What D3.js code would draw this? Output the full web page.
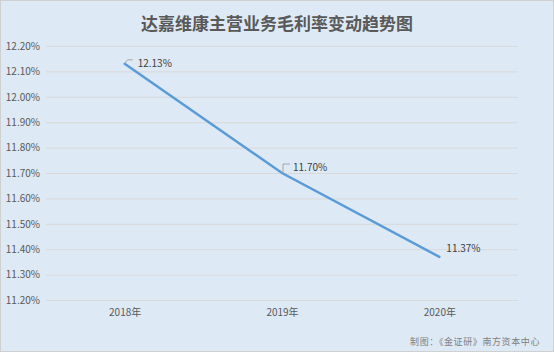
<!DOCTYPE html>
<html><head><meta charset="utf-8">
<script src="https://cdn.jsdelivr.net/npm/d3@7"></script>
<style>body{margin:0;background:#fff}svg{display:block}</style>
</head><body><svg id="c" width="554" height="352"></svg>
<script>
const title = "达嘉维康主营业务毛利率变动趋势图";
const categories = ["2018年", "2019年", "2020年"];
const values = [12.13, 11.70, 11.37];
const valueLabels = ["12.13%", "11.70%", "11.37%"];
const yTicks = [11.2, 11.3, 11.4, 11.5, 11.6, 11.7, 11.8, 11.9, 12.0, 12.1, 12.2];
const source = "制图：《金证研》南方资本中心";

const W = 554, H = 352;
const svg = d3.select("#c");
svg.append("rect").attr("x",0.5).attr("y",0.5).attr("width",W-1).attr("height",H-1)
  .attr("fill","#dde9f5").attr("stroke","#d0d0d0");

const x = d3.scalePoint().domain(categories).range([46,518]).padding(0.5);
const y = d3.scaleLinear().domain([11.2,12.2]).range([300,46]);

const font = "'Microsoft YaHei','Noto Sans CJK SC','DejaVu Sans',sans-serif";

svg.append("text").attr("x",W/2).attr("y",30).attr("text-anchor","middle")
  .attr("font-family",font).attr("font-size",17).attr("font-weight","600").attr("fill","#595959").text(title);

const yAxis = d3.axisLeft(y).tickValues(yTicks).tickFormat(d=>d.toFixed(2)+"%").tickSize(-(518-46)).tickPadding(6);
const gy = svg.append("g").attr("transform","translate(46,0)").call(yAxis);
gy.select(".domain").remove();
gy.selectAll(".tick line").attr("stroke","#d9d9d9").attr("stroke-width",1);
gy.selectAll(".tick text").attr("font-family",font).attr("font-size",10).attr("fill","#595959");

const xAxis = d3.axisBottom(x).tickSize(0).tickPadding(9);
const gx = svg.append("g").attr("transform","translate(0,300)").call(xAxis);
gx.select(".domain").attr("stroke","#d9d9d9");
gx.selectAll(".tick text").attr("font-family",font).attr("font-size",10).attr("fill","#595959");

const line = d3.line().x((d,i)=>x(categories[i])).y(d=>y(d));
svg.append("path").datum(values).attr("d",line).attr("fill","none")
  .attr("stroke","#5b9bd5").attr("stroke-width",2.5).attr("stroke-linecap","round");

const leaders = [
  {i:0, pts:[[0,0],[3,-4],[8,-4]], dx:13, dy:0},
  {i:1, pts:[[1,0],[1,-9],[8,-9]], dx:11, dy:-6},
  {i:2, pts:null, dx:7, dy:-8}
];
leaders.forEach(l=>{
  const px = x(categories[l.i]), py = y(values[l.i]);
  if(l.pts){
    svg.append("path").attr("d", d3.line()(l.pts.map(p=>[px+p[0],py+p[1]])))
      .attr("fill","none").attr("stroke","#a6a6a6").attr("stroke-width",1);
  }
  svg.append("text").attr("x",px+l.dx).attr("y",py+l.dy).attr("dy","0.35em")
    .attr("font-family",font).attr("font-size",10).attr("fill","#404040").text(valueLabels[l.i]);
});

svg.append("text").attr("x",540).attr("y",345).attr("text-anchor","end").attr("letter-spacing","0.6")
  .attr("font-family",font).attr("font-size",9).attr("fill","#808080").text(source);
</script></body></html>
